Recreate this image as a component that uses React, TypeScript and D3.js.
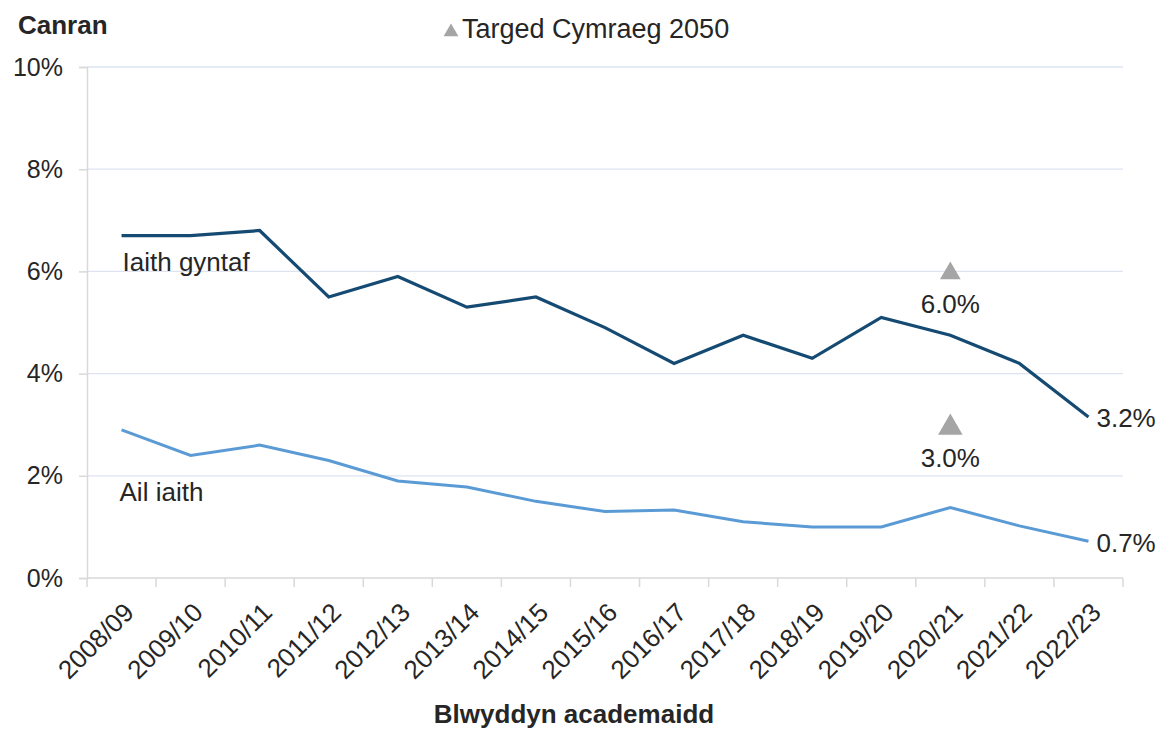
import React, { useEffect, useRef } from 'react';
import * as d3 from 'd3';

const years = [
  '2008/09', '2009/10', '2010/11', '2011/12', '2012/13', '2013/14', '2014/15', '2015/16',
  '2016/17', '2017/18', '2018/19', '2019/20', '2020/21', '2021/22', '2022/23',
];
const firstLanguage = [6.7, 6.7, 6.8, 5.5, 5.9, 5.3, 5.5, 4.9, 4.2, 4.75, 4.3, 5.1, 4.75, 4.2, 3.15];
const secondLanguage = [2.9, 2.4, 2.6, 2.3, 1.9, 1.78, 1.5, 1.3, 1.33, 1.1, 1.0, 1.0, 1.38, 1.02, 0.72];
const targetYear = '2020/21';
const targets = [6.0, 3.0];
const yTicks = [0, 2, 4, 6, 8, 10];

const FONT = '"Liberation Sans", Arial, sans-serif';
const TEXT = '#262626';

function App() {
  const ref = useRef<SVGSVGElement>(null);

  useEffect(() => {
    const width = 1161;
    const height = 736;
    const margin = { top: 67, right: 38, bottom: 158, left: 87 };

    const svg = d3.select(ref.current);
    svg.selectAll('*').remove();
    svg.attr('width', width).attr('height', height).style('font-family', FONT);

    const x = d3.scaleBand()
      .domain(years)
      .range([margin.left, width - margin.right]);
    const cx = (d: string) => (x(d) as number) + x.bandwidth() / 2;

    const y = d3.scaleLinear()
      .domain([0, 10])
      .range([height - margin.bottom, margin.top]);

    // gridlines
    svg.append('g')
      .selectAll('line')
      .data(yTicks.filter(t => t > 0))
      .enter()
      .append('line')
      .attr('x1', margin.left)
      .attr('x2', width - margin.right)
      .attr('y1', d => y(d))
      .attr('y2', d => y(d))
      .attr('stroke', '#dde4f0')
      .attr('stroke-width', 1.3);

    // y axis
    const yAxis = d3.axisLeft(y)
      .tickValues(yTicks)
      .tickSize(8)
      .tickPadding(16)
      .tickFormat(d => `${d}%`);
    const gy = svg.append('g')
      .attr('transform', `translate(${margin.left},0)`)
      .call(yAxis);
    gy.select('.domain').attr('stroke', '#d9d9d9').attr('stroke-width', 1.5);
    gy.selectAll('.tick line').attr('stroke', '#d9d9d9').attr('stroke-width', 1.5);
    gy.selectAll('.tick text')
      .attr('font-size', 25)
      .attr('font-family', FONT)
      .attr('fill', TEXT);

    // x axis: ticks between categories
    const base = y(0);
    const edges = years.map(d => x(d) as number).concat([width - margin.right]);
    svg.append('line')
      .attr('x1', margin.left)
      .attr('x2', width - margin.right)
      .attr('y1', base)
      .attr('y2', base)
      .attr('stroke', '#d9d9d9')
      .attr('stroke-width', 1.5);
    svg.append('g')
      .selectAll('line')
      .data(edges)
      .enter()
      .append('line')
      .attr('x1', d => d)
      .attr('x2', d => d)
      .attr('y1', base)
      .attr('y2', base + 9)
      .attr('stroke', '#d9d9d9')
      .attr('stroke-width', 1.5);

    svg.append('g')
      .selectAll('text')
      .data(years)
      .enter()
      .append('text')
      .attr('transform', d => `translate(${cx(d) + 14},${base + 36}) rotate(-45)`)
      .attr('text-anchor', 'end')
      .attr('font-size', 26)
      .attr('fill', TEXT)
      .text(d => d);

    // lines
    const line = d3.line<number>()
      .x((_, i) => cx(years[i]))
      .y(d => y(d));

    svg.append('path')
      .datum(secondLanguage)
      .attr('d', line)
      .attr('fill', 'none')
      .attr('stroke', '#5b9bd5')
      .attr('stroke-width', 3);

    svg.append('path')
      .datum(firstLanguage)
      .attr('d', line)
      .attr('fill', 'none')
      .attr('stroke', '#154a73')
      .attr('stroke-width', 3.2);

    // target markers
    const tri = d3.symbol().type(d3.symbolTriangle);
    svg.append('g')
      .selectAll('path')
      .data(targets)
      .enter()
      .append('path')
      .attr('d', (d, i) => tri.size(i === 0 ? 185 : 260)())
      .attr('transform', (d, i) => `translate(${cx(targetYear)},${y(d) + (i === 0 ? 2 : 3)})`)
      .attr('fill', '#a5a5a5');

    svg.append('g')
      .selectAll('text')
      .data(targets)
      .enter()
      .append('text')
      .attr('x', cx(targetYear))
      .attr('y', d => y(d) + 42)
      .attr('text-anchor', 'middle')
      .attr('font-size', 26)
      .attr('fill', TEXT)
      .text(d => `${d.toFixed(1)}%`);

    // end labels
    const last = years.length - 1;
    svg.append('text')
      .attr('x', cx(years[last]) + 8)
      .attr('y', y(firstLanguage[last]) + 10)
      .attr('font-size', 26)
      .attr('fill', TEXT)
      .text('3.2%');
    svg.append('text')
      .attr('x', cx(years[last]) + 8)
      .attr('y', y(secondLanguage[last]) + 11)
      .attr('font-size', 26)
      .attr('fill', TEXT)
      .text('0.7%');

    // series names
    svg.append('text')
      .attr('x', cx(years[0]) + 1)
      .attr('y', 271)
      .attr('font-size', 26)
      .attr('fill', TEXT)
      .text('Iaith gyntaf');
    svg.append('text')
      .attr('x', cx(years[0]) - 2)
      .attr('y', 501)
      .attr('font-size', 26)
      .attr('fill', TEXT)
      .text('Ail iaith');

    // titles
    svg.append('text')
      .attr('x', 18)
      .attr('y', 34)
      .attr('font-size', 26)
      .attr('font-weight', 'bold')
      .attr('fill', TEXT)
      .text('Canran');
    svg.append('text')
      .attr('x', 574)
      .attr('y', 723)
      .attr('text-anchor', 'middle')
      .attr('font-size', 26)
      .attr('font-weight', 'bold')
      .attr('fill', TEXT)
      .text('Blwyddyn academaidd');

    // legend
    svg.append('path')
      .attr('d', d3.symbol().type(d3.symbolTriangle).size(95)())
      .attr('transform', 'translate(451,32)')
      .attr('fill', '#a5a5a5');
    svg.append('text')
      .attr('x', 462)
      .attr('y', 38)
      .attr('font-size', 27)
      .attr('fill', TEXT)
      .text('Targed Cymraeg 2050');
  }, []);

  return (
    <div style={{ position: 'absolute', left: 0, top: 0 }}>
      <svg ref={ref} style={{ display: 'block', background: '#fff' }} />
    </div>
  );
}

export default App;
